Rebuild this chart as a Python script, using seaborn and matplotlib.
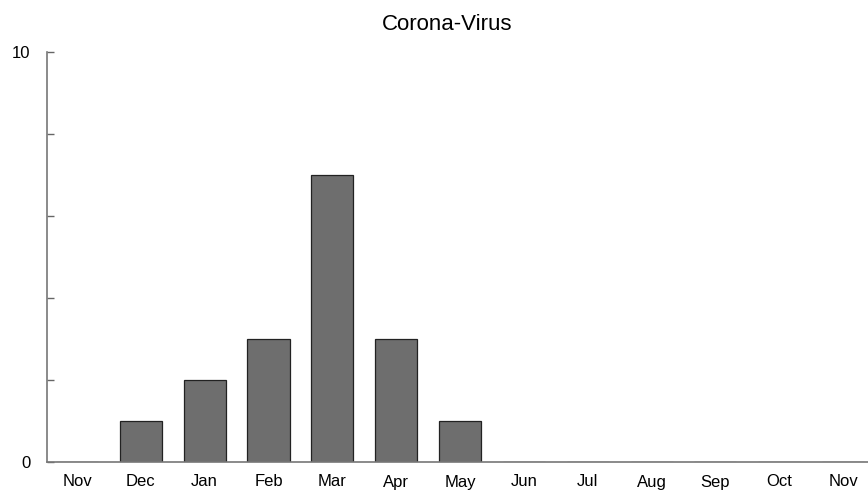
import pandas as pd
import matplotlib
matplotlib.use("Agg")
import matplotlib.pyplot as plt
import seaborn as sns

# Monthly counts
months = ["Nov", "Dec", "Jan", "Feb", "Mar", "Apr", "May",
          "Jun", "Jul", "Aug", "Sep", "Oct", "Nov "]
counts = [0, 1, 2, 3, 7, 3, 1, 0, 0, 0, 0, 0, 0]

df = pd.DataFrame({"month": months, "count": counts})

sns.set_style("white")
plt.rcParams["font.family"] = ["Liberation Sans", "DejaVu Sans"]
plt.rcParams["text.color"] = "black"
plt.rcParams["xtick.color"] = "black"
plt.rcParams["ytick.color"] = "black"

fig = plt.figure(figsize=(8.68, 4.91), dpi=100)
ax = fig.add_axes([47 / 868, 29 / 491, 1 - 47 / 868, 410 / 491])

sns.barplot(x="month", y="count", data=df, order=months, color="#6e6e6e",
            saturation=1, width=0.66, edgecolor="#222222", linewidth=0.9, ax=ax)

ax.set_xlim(-0.47, 12.39)
ax.set_ylim(0, 10)
ax.set_yticks([0, 2, 4, 6, 8, 10])
ax.set_yticklabels(["0", "", "", "", "", "10"])
ax.set_xticks(range(len(months)))
ax.set_xticklabels([m.strip() for m in months])
ax.tick_params(axis="y", left=True, direction="in", length=5, color="#666666",
               width=1, labelsize=12, pad=12, labelcolor="black")
ax.tick_params(axis="x", length=0, labelsize=12, pad=9, labelcolor="black")

for side in ["top", "right"]:
    ax.spines[side].set_visible(False)
for side in ["left", "bottom"]:
    ax.spines[side].set_color("#777777")
    ax.spines[side].set_linewidth(1.2)

ax.set_xlabel("")
ax.set_ylabel("")
fig.text(0.515, 0.951, "Corona-Virus", ha="center", va="center", fontsize=16,
         color="black")

fig.savefig("out.png", dpi=100)
